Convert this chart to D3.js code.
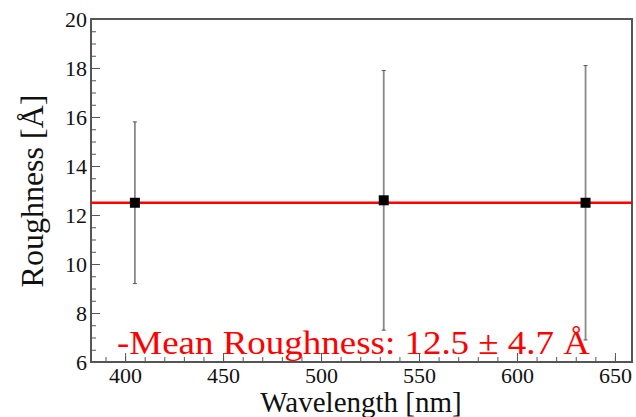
<!DOCTYPE html>
<html>
<head>
<meta charset="utf-8">
<script src="https://cdn.jsdelivr.net/npm/d3@7"></script>
<style>
  body { margin: 0; background: #fff; }
  svg text { font-family: 'Liberation Serif', 'Times New Roman', serif; }
</style>
</head>
<body>
<div id="chart"></div>
<script>
// measured roughness per laser wavelength
var wavelengths = [405, 532, 635];
var roughness = [12.5, 12.6, 12.5];
var roughErr = [3.3, 5.3, 5.6];
var meanRough = 12.5;
var meanErr = 4.7;
var xTicks = [400, 450, 500, 550, 600, 650];
var yTicks = [6, 8, 10, 12, 14, 16, 18, 20];

var W = 636, H = 417;
var margin = {left: 91, top: 19, right: 4, bottom: 55};

var svg = d3.select("#chart").append("svg")
    .attr("width", W)
    .attr("height", H);

var x = d3.scaleLinear().domain([382.6, 658.7]).range([margin.left, W - margin.right]);
var y = d3.scaleLinear().domain([6, 20]).range([H - margin.bottom, margin.top]);

function styleAxis(g){
    g.attr("font-family", null).attr("font-size", null);
    g.select(".domain").remove();
    g.selectAll("line").attr("stroke", "#555");
    g.selectAll("text")
        .attr("font-size", "22px")
        .attr("fill", "#111");
}

// minor ticks
svg.append("g")
    .attr("transform", "translate(0," + y(6) + ")")
    .call(d3.axisBottom(x).tickValues(d3.range(390, 660, 10)).tickSizeInner(-5).tickSizeOuter(0).tickFormat(""))
    .call(styleAxis);
svg.append("g")
    .attr("transform", "translate(" + x.range()[0] + ",0)")
    .call(d3.axisLeft(y).tickValues(d3.range(6.5, 20, 0.5)).tickSizeInner(-5).tickSizeOuter(0).tickFormat(""))
    .call(styleAxis);

// major ticks + labels
svg.append("g")
    .attr("transform", "translate(0," + y(6) + ")")
    .call(d3.axisBottom(x).tickValues(xTicks).tickSizeInner(-9).tickSizeOuter(0).tickPadding(5))
    .call(styleAxis);
svg.append("g")
    .attr("transform", "translate(" + x.range()[0] + ",0)")
    .call(d3.axisLeft(y).tickValues(yTicks).tickSizeInner(-9).tickSizeOuter(0).tickPadding(4))
    .call(styleAxis);

// frame
svg.append("rect")
    .attr("x", x.range()[0])
    .attr("y", y.range()[1])
    .attr("width", x.range()[1] - x.range()[0])
    .attr("height", y.range()[0] - y.range()[1])
    .attr("fill", "none")
    .attr("stroke", "#555")
    .attr("stroke-width", 2);

// error bars
var pts = wavelengths.map(function(w, i){ return {w: w, r: roughness[i], e: roughErr[i]}; });
svg.selectAll(".err")
    .data(pts).enter()
    .append("line")
    .attr("class", "err")
    .attr("x1", function(d){ return x(d.w); })
    .attr("x2", function(d){ return x(d.w); })
    .attr("y1", function(d){ return y(d.r + d.e); })
    .attr("y2", function(d){ return y(d.r - d.e); })
    .attr("stroke", "#888")
    .attr("stroke-width", 1.8);
svg.selectAll(".cap")
    .data(pts.concat(pts.map(function(d){ return {w: d.w, r: d.r, e: -d.e}; }))).enter()
    .append("line")
    .attr("class", "cap")
    .attr("x1", function(d){ return x(d.w) - 2; })
    .attr("x2", function(d){ return x(d.w) + 2; })
    .attr("y1", function(d){ return y(d.r + d.e); })
    .attr("y2", function(d){ return y(d.r + d.e); })
    .attr("stroke", "#555")
    .attr("stroke-width", 1);

// mean line
svg.append("line")
    .attr("x1", x.range()[0])
    .attr("x2", x.range()[1])
    .attr("y1", y(meanRough))
    .attr("y2", y(meanRough))
    .attr("stroke", "#ff0000")
    .attr("stroke-width", 2.5);

// points
svg.selectAll(".pt")
    .data(pts).enter()
    .append("rect")
    .attr("class", "pt")
    .attr("x", function(d){ return x(d.w) - 5; })
    .attr("y", function(d){ return y(d.r) - 5; })
    .attr("width", 10)
    .attr("height", 10)
    .attr("fill", "#000");

// legend text
svg.append("text")
    .attr("x", 117)
    .attr("y", 354)
    .attr("font-size", "33px")
    .attr("fill", "#ff0000")
    .attr("textLength", 473)
    .attr("lengthAdjust", "spacingAndGlyphs")
    .text("-Mean Roughness: " + meanRough.toFixed(1) + " \u00b1 " + meanErr.toFixed(1) + " \u00c5");

// axis titles
svg.append("text")
    .attr("x", 361)
    .attr("y", 412)
    .attr("text-anchor", "middle")
    .attr("font-size", "29px")
    .attr("fill", "#111")
    .text("Wavelength [nm]");
svg.append("text")
    .attr("transform", "translate(43,191) rotate(-90)")
    .attr("text-anchor", "middle")
    .attr("font-size", "32px")
    .attr("fill", "#111")
    .text("Roughness [\u00c5]");
</script>
</body>
</html>
